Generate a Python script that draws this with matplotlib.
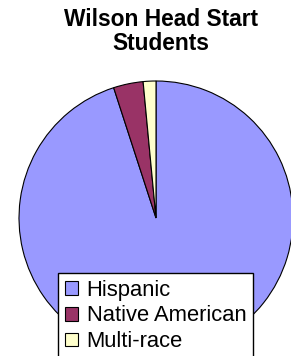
import matplotlib
matplotlib.use("Agg")
import matplotlib.pyplot as plt

categories = ["Hispanic", "Native American", "Multi-race"]
values = [95.0, 3.5, 1.5]
colors = ["#9999FF", "#993366", "#FFFFCC"]

W, H = 291, 356
fig = plt.figure(figsize=(W / 100, H / 100), dpi=100)
fig.patch.set_facecolor("white")

cx, cy, r = 156, 218, 137
ax = fig.add_axes([(cx - r) / W, (H - cy - r) / H, 2 * r / W, 2 * r / H])
wedges, _ = ax.pie(values, colors=colors, startangle=90, counterclock=False,
                   wedgeprops=dict(edgecolor="black", linewidth=0.8))
for w in wedges:
    w.set_clip_on(False)
ax.set_xlim(-1, 1)
ax.set_ylim(-1, 1)
ax.set_aspect("auto")
ax.axis("off")

fig.text(160.5 / W, 1 - 8 / H, "Wilson Head Start\nStudents", ha="center", va="top",
         fontsize=16.4, fontweight="bold", family="Liberation Sans", linespacing=1.05)

leg = fig.legend(wedges, categories, loc="upper left",
                 bbox_to_anchor=(58 / W, 1 - 273 / H), bbox_transform=fig.transFigure,
                 prop=dict(family="Liberation Sans", size=15.8),
                 frameon=True, fancybox=False, shadow=False, framealpha=1,
                 edgecolor="black", borderpad=0.3, labelspacing=0.22,
                 handlelength=0.6, handleheight=0.6, handletextpad=0.4,
                 borderaxespad=0)
leg.get_frame().set_linewidth(1.0)
for h in leg.legend_handles:
    h.set_edgecolor("black")
    h.set_linewidth(0.8)

fig.savefig("out.png", dpi=100)
